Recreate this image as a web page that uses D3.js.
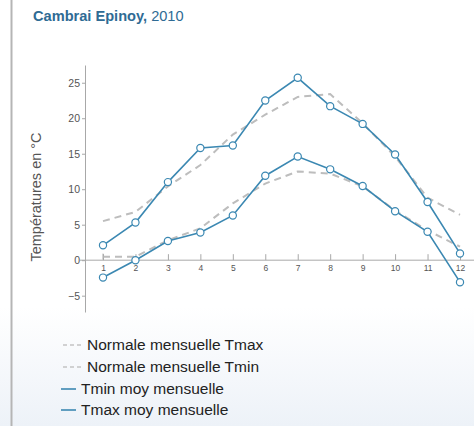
<!DOCTYPE html>
<html><head><meta charset="utf-8">
<script src="https://cdn.jsdelivr.net/npm/d3@7"></script>
<style>html,body{margin:0;padding:0;background:#fff;}svg{display:block;}</style>
</head><body>
<script>
const months = [1,2,3,4,5,6,7,8,9,10,11,12];
const tmaxMoy = [2.1,5.3,11.0,15.8,16.15,22.5,25.7,21.7,19.2,14.9,8.2,0.95];
const tminMoy = [-2.45,0.0,2.7,3.9,6.3,11.9,14.6,12.8,10.45,6.9,4.0,-3.1];
const normTmax = [5.5,6.8,10.4,13.4,17.7,20.5,23.0,23.4,19.3,14.6,8.8,6.4];
const normTmin = [0.5,0.5,2.8,4.5,8.0,10.8,12.5,12.2,10.4,7.0,4.2,1.9];
const yTicks = [-5,0,5,10,15,20,25];
const legendLabels = ["Normale mensuelle Tmax","Normale mensuelle Tmin","Tmin moy mensuelle","Tmax moy mensuelle"];

const W=474,H=426;
const svg=d3.select("body").append("svg").attr("width",W).attr("height",H);
const defs=svg.append("defs");
const grad=defs.append("linearGradient").attr("id","bg").attr("x1",0).attr("x2",0).attr("y1",0).attr("y2",1);
grad.append("stop").attr("offset","0%").attr("stop-color","#ffffff");
grad.append("stop").attr("offset","72%").attr("stop-color","#ffffff");
grad.append("stop").attr("offset","100%").attr("stop-color","#edf2f8");
svg.append("rect").attr("width",W).attr("height",H).attr("fill","url(#bg)");
svg.append("line").attr("x1",11.5).attr("x2",11.5).attr("y1",0).attr("y2",H).attr("stroke","#b5b5b5").attr("stroke-width",2);

const font="Liberation Sans, Arial, sans-serif";
const title=svg.append("text").attr("x",33).attr("y",21).attr("font-family",font).attr("font-size",14.6).attr("fill","#2f6b94");
title.append("tspan").attr("font-weight","bold").text("Cambrai Epinoy,");
title.append("tspan").text(" 2010");

const x=d3.scaleLinear().domain([1,12]).range([103,460]);
const y=d3.scaleLinear().domain([-7.3,27.5]).range([312,65]);

// y axis
const yAxis=svg.append("g").attr("transform","translate(85,0)")
  .call(d3.axisLeft(y).tickValues(yTicks).tickSize(3).tickSizeOuter(0).tickPadding(2));
yAxis.select(".domain").attr("stroke","#a8a8a8");
yAxis.selectAll(".tick line").attr("stroke","#a8a8a8");
yAxis.selectAll(".tick text").attr("font-family",font).attr("font-size",10.5).attr("fill","#555");

// x axis
const xAxis=svg.append("g").attr("transform",`translate(0,${y(0)})`)
  .call(d3.axisBottom(x).tickValues(months).tickSize(0).tickPadding(5).tickFormat(d3.format("d")));
xAxis.select(".domain").remove();
xAxis.append("line").attr("x1",80).attr("x2",474).attr("stroke","#a8a8a8");
xAxis.selectAll(".tick").append("line").attr("y1",-6).attr("y2",0).attr("stroke","#a8a8a8");
xAxis.selectAll(".tick text").attr("font-family",font).attr("font-size",8.5).attr("fill","#555");

svg.append("text").attr("transform",`translate(41,197) rotate(-90)`).attr("text-anchor","middle")
  .attr("font-family",font).attr("font-size",14.5).attr("fill","#555").text("Températures en °C");

const line=d3.line().x((d,i)=>x(months[i])).y(d=>y(d));
const blue="#3b88b2";
[normTmax,normTmin].forEach(s=>{
  svg.append("path").attr("d",line(s)).attr("fill","none").attr("stroke","#bdbdbd").attr("stroke-width",2).attr("stroke-dasharray","7,5");
});
svg.append("line").attr("x1",x(1)).attr("x2",x(1)).attr("y1",y(normTmin[0])-3).attr("y2",y(normTmin[0])+3).attr("stroke","#aaa");
[tminMoy,tmaxMoy].forEach(s=>{
  svg.append("path").attr("d",line(s)).attr("fill","none").attr("stroke",blue).attr("stroke-width",1.6);
  svg.append("g").selectAll("circle").data(s).join("circle")
    .attr("cx",(d,i)=>x(months[i])).attr("cy",d=>y(d)).attr("r",3.6)
    .attr("fill","#fff").attr("stroke",blue).attr("stroke-width",1.2);
});

// legend
const ly=[345,367,389,410];
legendLabels.forEach((t,i)=>{
  const g=svg.append("g");
  if(i<2){
    g.append("line").attr("x1",63).attr("x2",83).attr("y1",ly[i]).attr("y2",ly[i]).attr("stroke","#c4c4c4").attr("stroke-width",1.5).attr("stroke-dasharray","4,3");
    g.append("text").attr("x",87).attr("y",ly[i]).attr("dy","0.35em").attr("font-family",font).attr("font-size",15.5).attr("fill","#222").text(t);
  } else {
    g.append("line").attr("x1",61).attr("x2",76).attr("y1",ly[i]).attr("y2",ly[i]).attr("stroke",blue).attr("stroke-width",1.6);
    g.append("text").attr("x",81).attr("y",ly[i]).attr("dy","0.35em").attr("font-family",font).attr("font-size",15.5).attr("fill","#222").text(t);
  }
});
</script>
</body></html>
